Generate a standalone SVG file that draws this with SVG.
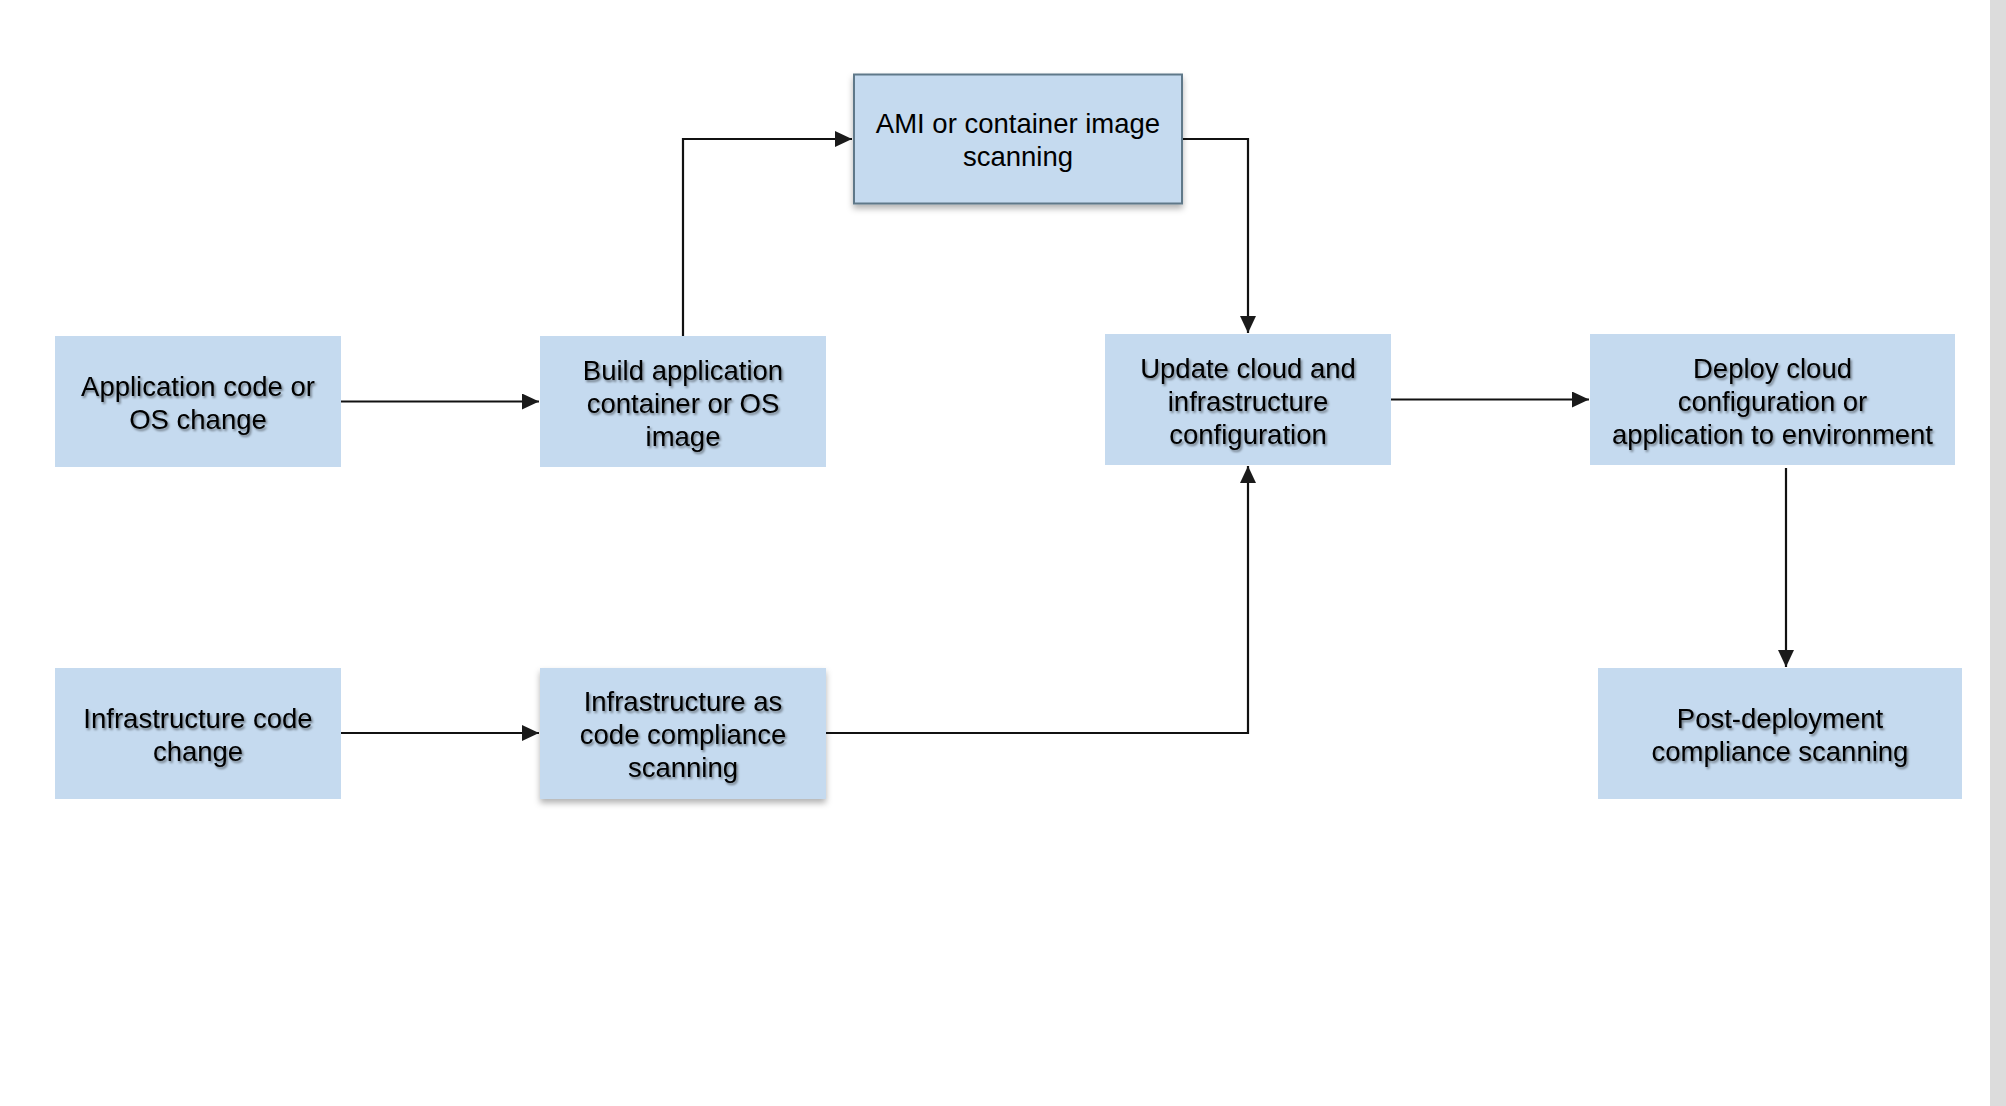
<svg xmlns="http://www.w3.org/2000/svg" width="2006" height="1106" viewBox="0 0 2006 1106">
<defs>
<style>
.box{fill:#c5daef;}
.lbl{font-family:"Liberation Sans",Arial,sans-serif;font-size:27.5px;fill:#000;text-anchor:middle;}
.sh{filter:url(#tshadow);}
.conn{fill:none;stroke:#111;stroke-width:2.2;marker-end:url(#arr);}
</style>
<marker id="arr" markerUnits="userSpaceOnUse" markerWidth="18" markerHeight="17" refX="17" refY="8" orient="auto">
<path d="M0,0 L17,8 L0,16 z" fill="#1a1a1a"/>
</marker>
<filter id="tshadow" x="-10%" y="-30%" width="120%" height="160%">
<feDropShadow dx="1.5" dy="2" stdDeviation="1.2" flood-color="#000" flood-opacity="0.45"/>
</filter>
<filter id="bshadow" x="-5%" y="-10%" width="110%" height="125%">
<feDropShadow dx="0" dy="4" stdDeviation="3" flood-color="#000" flood-opacity="0.3"/>
</filter>
</defs>
<rect x="0" y="0" width="2006" height="1106" fill="#ffffff"/>
<rect x="1990" y="0" width="16" height="1106" fill="#dcdcdc"/>

<g id="connectors">
<path class="conn" d="M341,401.5 H539"/>
<path class="conn" d="M683,336 V139 H852"/>
<path class="conn" d="M1183,139 H1248 V333"/>
<path class="conn" d="M341,733 H539"/>
<path class="conn" d="M826,733 H1248 V466"/>
<path class="conn" d="M1391,399.5 H1589"/>
<path class="conn" d="M1786,468 V667"/>
</g>

<g id="node-app-code">
<rect class="box" x="55" y="336" width="286" height="131"/>
<text class="lbl sh" x="198" y="396.3">Application code or</text>
<text class="lbl sh" x="198" y="429.3">OS change</text>
</g>

<g id="node-build">
<rect class="box" x="540" y="336" width="286" height="131"/>
<text class="lbl sh" x="683" y="379.8">Build application</text>
<text class="lbl sh" x="683" y="412.8">container or OS</text>
<text class="lbl sh" x="683" y="445.8">image</text>
</g>

<g id="node-ami">
<rect class="box" x="854" y="74.5" width="328" height="129" stroke="#5f7889" stroke-width="2" filter="url(#bshadow)"/>
<text class="lbl" x="1018" y="133.3">AMI or container image</text>
<text class="lbl" x="1018" y="166.3">scanning</text>
</g>

<g id="node-infra-code">
<rect class="box" x="55" y="668" width="286" height="131"/>
<text class="lbl sh" x="198" y="727.8">Infrastructure code</text>
<text class="lbl sh" x="198" y="760.8">change</text>
</g>

<g id="node-iac-scan">
<rect class="box" x="540" y="668" width="286" height="131" filter="url(#bshadow)"/>
<text class="lbl sh" x="683" y="711.3">Infrastructure as</text>
<text class="lbl sh" x="683" y="744.3">code compliance</text>
<text class="lbl sh" x="683" y="777.3">scanning</text>
</g>

<g id="node-update">
<rect class="box" x="1105" y="334" width="286" height="131"/>
<text class="lbl sh" x="1248" y="377.8">Update cloud and</text>
<text class="lbl sh" x="1248" y="410.8">infrastructure</text>
<text class="lbl sh" x="1248" y="443.8">configuration</text>
</g>

<g id="node-deploy">
<rect class="box" x="1590" y="334" width="365" height="131"/>
<text class="lbl sh" x="1772.5" y="377.8">Deploy cloud</text>
<text class="lbl sh" x="1772.5" y="410.8">configuration or</text>
<text class="lbl sh" x="1772.5" y="443.8">application to environment</text>
</g>

<g id="node-post">
<rect class="box" x="1598" y="668" width="364" height="131"/>
<text class="lbl sh" x="1780" y="728.3">Post-deployment</text>
<text class="lbl sh" x="1780" y="761.3">compliance scanning</text>
</g>
</svg>
